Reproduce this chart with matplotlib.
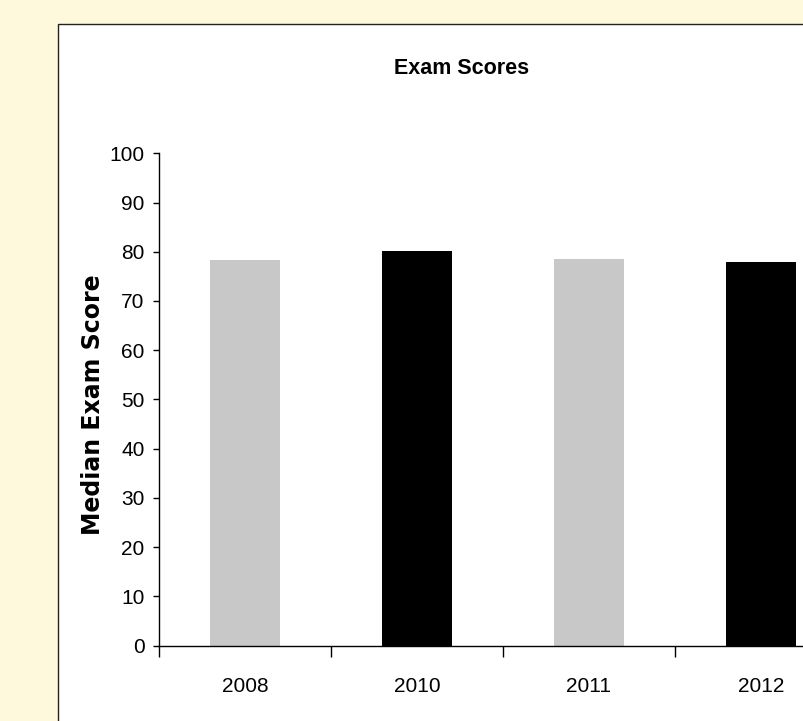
#!/usr/bin/env python3
"""
Median exam score by year, drawn as a simple bar chart on a framed panel.
"""

import matplotlib
matplotlib.use("Agg")
import matplotlib.pyplot as plt
from matplotlib.patches import Rectangle

years = ["2008", "2010", "2011", "2012"]
median_scores = [78.3, 80.1, 78.5, 77.9]
bar_colors = ["#c8c8c8", "#000000", "#c8c8c8", "#000000"]

y_ticks = list(range(0, 101, 10))

LABEL_FONT = ["Liberation Sans", "DejaVu Sans"]

fig = plt.figure(figsize=(8.04, 7.21), dpi=100, facecolor="#fef9dc")

# white chart panel with a thin dark frame, kept behind the axes
panel = Rectangle((58 / 804, -0.05), 1.0, 1 - 24 / 721 + 0.05,
                  transform=fig.transFigure, facecolor="white",
                  edgecolor="#222222", linewidth=1.0, zorder=-10)
fig.patches.append(panel)

# plot area runs past the right edge of the canvas
left, right = 159 / 804, 847 / 804
bottom, top = 1 - 645.5 / 721, 1 - 153.3 / 721
ax = fig.add_axes([left, bottom, right - left, top - bottom])
ax.set_facecolor("none")
ax.set_zorder(5)

positions = [i + 0.5 for i in range(len(years))]
ax.bar(positions, median_scores, width=0.405, color=bar_colors, zorder=2)

ax.set_xlim(0, len(years))
ax.set_ylim(0, 100)

for side in ("top", "right"):
    ax.spines[side].set_visible(False)
for side in ("left", "bottom"):
    ax.spines[side].set_linewidth(1.0)
    ax.spines[side].set_color("black")

# y axis
ax.set_yticks(y_ticks)
ax.set_yticklabels([str(v) for v in y_ticks], family=LABEL_FONT, fontsize=15)
ax.tick_params(axis="y", direction="out", length=4.5, width=1.0, pad=6)

# x axis: ticks between categories, labels centred under bars
ax.set_xticks(range(len(years) + 1))
ax.set_xticklabels([])
ax.tick_params(axis="x", which="major", direction="out", length=8, width=1.0)
ax.set_xticks(positions, minor=True)
ax.set_xticklabels(years, minor=True, family=LABEL_FONT, fontsize=15)
ax.tick_params(axis="x", which="minor", length=0, pad=23)

fig.text(462 / 804, 1 - 68 / 721, "Exam Scores", ha="center", va="center",
         family=LABEL_FONT, fontsize=15.5, fontweight="bold")
fig.text(93 / 804, 1 - 405 / 721, "Median Exam Score", rotation=90,
         ha="center", va="center", family="DejaVu Sans", fontsize=17,
         fontweight="bold")

fig.savefig("out.png", dpi=100, facecolor=fig.get_facecolor())
